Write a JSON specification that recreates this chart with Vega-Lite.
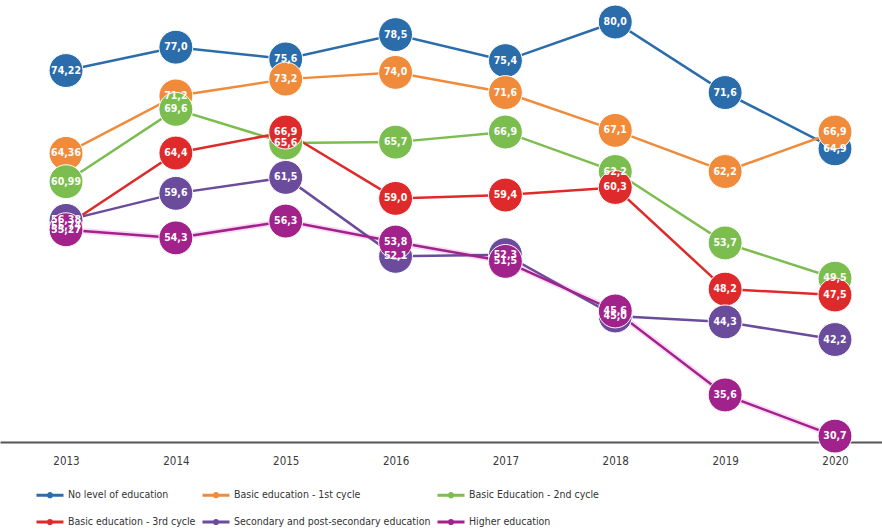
{
  "$schema": "https://vega.github.io/schema/vega-lite/v6.json",
  "width": 882,
  "height": 420,
  "autosize": {"type": "none"},
  "padding": {"left": 0, "top": 22, "right": 0, "bottom": 89},
  "background": "white",
  "config": {
    "view": {"stroke": null},
    "locale": {"number": {"decimal": ",", "thousands": ".", "grouping": [3], "currency": ["", " €"]}},
    "font": "Liberation Sans Narrow, DejaVu Sans Condensed, Roboto"
  },
  "data": {
    "values": [
      {"year": 2013, "level": "No level of education", "value": 74.22},
      {"year": 2014, "level": "No level of education", "value": 77.0},
      {"year": 2015, "level": "No level of education", "value": 75.6},
      {"year": 2016, "level": "No level of education", "value": 78.5},
      {"year": 2017, "level": "No level of education", "value": 75.4},
      {"year": 2018, "level": "No level of education", "value": 80.0},
      {"year": 2019, "level": "No level of education", "value": 71.6},
      {"year": 2020, "level": "No level of education", "value": 64.9},
      {"year": 2013, "level": "Basic education - 1st cycle", "value": 64.36},
      {"year": 2014, "level": "Basic education - 1st cycle", "value": 71.2},
      {"year": 2015, "level": "Basic education - 1st cycle", "value": 73.2},
      {"year": 2016, "level": "Basic education - 1st cycle", "value": 74.0},
      {"year": 2017, "level": "Basic education - 1st cycle", "value": 71.6},
      {"year": 2018, "level": "Basic education - 1st cycle", "value": 67.1},
      {"year": 2019, "level": "Basic education - 1st cycle", "value": 62.2},
      {"year": 2020, "level": "Basic education - 1st cycle", "value": 66.9},
      {"year": 2013, "level": "Basic Education - 2nd cycle", "value": 60.99},
      {"year": 2014, "level": "Basic Education - 2nd cycle", "value": 69.6},
      {"year": 2015, "level": "Basic Education - 2nd cycle", "value": 65.6},
      {"year": 2016, "level": "Basic Education - 2nd cycle", "value": 65.7},
      {"year": 2017, "level": "Basic Education - 2nd cycle", "value": 66.9},
      {"year": 2018, "level": "Basic Education - 2nd cycle", "value": 62.2},
      {"year": 2019, "level": "Basic Education - 2nd cycle", "value": 53.7},
      {"year": 2020, "level": "Basic Education - 2nd cycle", "value": 49.5},
      {"year": 2013, "level": "Basic education - 3rd cycle", "value": 55.74},
      {"year": 2014, "level": "Basic education - 3rd cycle", "value": 64.4},
      {"year": 2015, "level": "Basic education - 3rd cycle", "value": 66.9},
      {"year": 2016, "level": "Basic education - 3rd cycle", "value": 59.0},
      {"year": 2017, "level": "Basic education - 3rd cycle", "value": 59.4},
      {"year": 2018, "level": "Basic education - 3rd cycle", "value": 60.3},
      {"year": 2019, "level": "Basic education - 3rd cycle", "value": 48.2},
      {"year": 2020, "level": "Basic education - 3rd cycle", "value": 47.5},
      {"year": 2013, "level": "Secondary and post-secondary education", "value": 56.38},
      {"year": 2014, "level": "Secondary and post-secondary education", "value": 59.6},
      {"year": 2015, "level": "Secondary and post-secondary education", "value": 61.5},
      {"year": 2016, "level": "Secondary and post-secondary education", "value": 52.1},
      {"year": 2017, "level": "Secondary and post-secondary education", "value": 52.3},
      {"year": 2018, "level": "Secondary and post-secondary education", "value": 45.0},
      {"year": 2019, "level": "Secondary and post-secondary education", "value": 44.3},
      {"year": 2020, "level": "Secondary and post-secondary education", "value": 42.2},
      {"year": 2013, "level": "Higher education", "value": 55.27},
      {"year": 2014, "level": "Higher education", "value": 54.3},
      {"year": 2015, "level": "Higher education", "value": 56.3},
      {"year": 2016, "level": "Higher education", "value": 53.8},
      {"year": 2017, "level": "Higher education", "value": 51.5},
      {"year": 2018, "level": "Higher education", "value": 45.6},
      {"year": 2019, "level": "Higher education", "value": 35.6},
      {"year": 2020, "level": "Higher education", "value": 30.7}
    ]
  },
  "encoding": {
    "x": {
      "field": "year",
      "type": "quantitative",
      "scale": {"domain": [2012.399, 2020.428], "nice": false, "zero": false},
      "axis": {
        "title": null,
        "values": [2013, 2014, 2015, 2016, 2017, 2018, 2019, 2020],
        "format": "d",
        "grid": false,
        "ticks": false,
        "domainColor": "#555555",
        "domainWidth": 2,
        "labelFontSize": 11.5,
        "labelColor": "#3a3a3a",
        "labelPadding": 13,
        "labelFlush": false
      }
    },
    "y": {
      "field": "value",
      "type": "quantitative",
      "scale": {"domain": [30, 80], "nice": false, "zero": false},
      "axis": null
    },
    "color": {
      "field": "level",
      "type": "nominal",
      "scale": {
        "domain": [
          "No level of education",
          "Basic education - 1st cycle",
          "Basic Education - 2nd cycle",
          "Basic education - 3rd cycle",
          "Secondary and post-secondary education",
          "Higher education"
        ],
        "range": ["#2b6cab", "#f08b3b", "#7cbd50", "#df2a2b", "#6a4b9c", "#a2228b"]
      }
    }
  },
  "layer": [
    {
      "transform": [{"filter": "datum.level === 'Higher education'"}],
      "mark": {"type": "line", "strokeWidth": 6, "color": "#f3b0e6", "opacity": 0.45},
      "encoding": {"color": {"value": "#f3b0e6"}}
    },
    {
      "mark": {"type": "line", "strokeWidth": 2.5},
      "encoding": {
        "color": {
          "field": "level",
          "type": "nominal",
          "legend": {
            "title": null,
            "orient": "none",
            "legendX": 35,
            "legendY": 458,
            "direction": "horizontal",
            "columns": 3,
            "gridAlign": "each",
            "columnPadding": 0,
            "rowPadding": 4,
            "symbolType": "M-1,0H1M-0.12,0A0.12,0.12,0,1,1,0.12,0A0.12,0.12,0,1,1,-0.12,0Z",
            "symbolSize": 729,
            "symbolStrokeWidth": 3,
            "labelFontSize": 10.5,
            "labelColor": "#333333",
            "labelOffset": 3,
            "labelLimit": 300
          }
        }
      }
    },
    {
      "mark": {"type": "circle", "size": 1150, "opacity": 1, "stroke": "white", "strokeWidth": 1},
      "encoding": {"color": {"field": "level", "type": "nominal", "legend": null}}
    },
    {
      "transform": [{"filter": "datum.year === 2013"}],
      "mark": {"type": "text", "color": "white", "fontWeight": "bold", "fontSize": 10.5},
      "encoding": {"text": {"field": "value", "type": "quantitative", "format": ".2f"}, "color": {"value": "white"}}
    },
    {
      "transform": [{"filter": "datum.year !== 2013"}],
      "mark": {"type": "text", "color": "white", "fontWeight": "bold", "fontSize": 10.5},
      "encoding": {"text": {"field": "value", "type": "quantitative", "format": ".1f"}, "color": {"value": "white"}}
    }
  ]
}
